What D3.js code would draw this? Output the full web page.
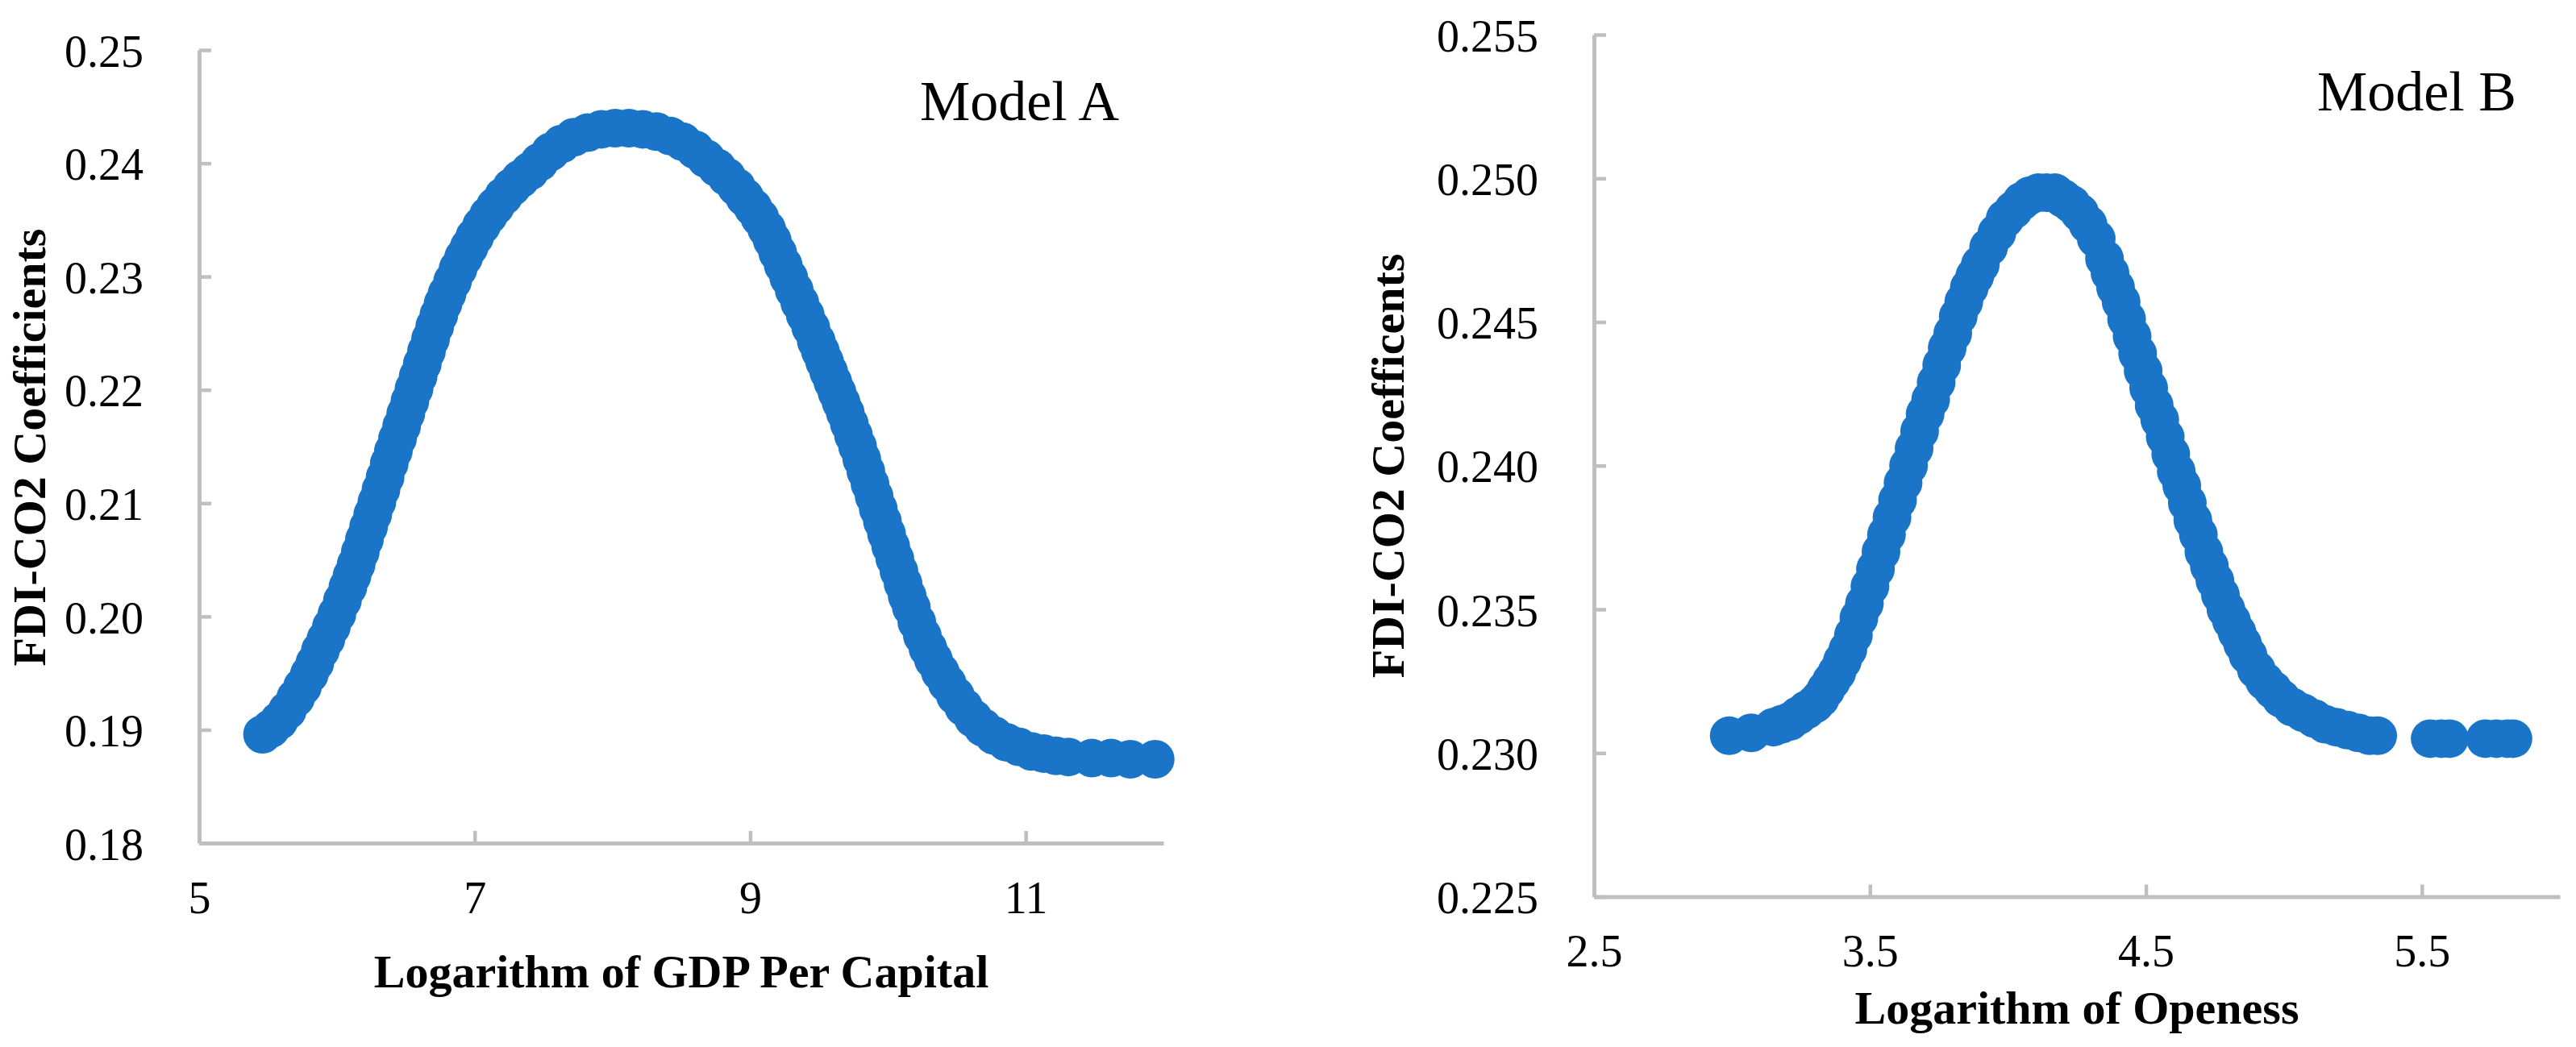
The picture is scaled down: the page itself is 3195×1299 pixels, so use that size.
<!DOCTYPE html>
<html><head><meta charset="utf-8">
<script src="https://cdn.jsdelivr.net/npm/d3@7"></script>
<style>body{margin:0;background:#fff}svg{display:block}</style>
</head><body><svg id="c" width="3195" height="1299"></svg>
<script>
// ---------- DATA ----------
const modelA_x = [5.46,5.52,5.58,5.64,5.70,5.75,5.80,5.84,5.88,5.92,5.96,6.00,6.04,6.08,6.11,6.14,6.17,6.20,6.23,6.26,6.29,6.32,6.35,6.38,6.41,6.44,6.47,6.50,6.53,6.56,6.59,6.62,6.65,6.68,6.71,6.74,6.77,6.80,6.84,6.88,6.92,6.96,7.00,7.05,7.10,7.15,7.21,7.27,7.33,7.40,7.47,7.55,7.63,7.72,7.82,7.92,8.02,8.12,8.22,8.32,8.42,8.51,8.60,8.68,8.76,8.83,8.90,8.96,9.02,9.07,9.12,9.16,9.20,9.24,9.28,9.32,9.36,9.40,9.44,9.48,9.51,9.54,9.57,9.60,9.63,9.66,9.69,9.72,9.75,9.78,9.81,9.84,9.87,9.90,9.93,9.96,9.99,10.02,10.05,10.08,10.11,10.14,10.17,10.21,10.25,10.29,10.33,10.38,10.43,10.49,10.55,10.62,10.69,10.77,10.86,10.95,11.04,11.13,11.22,11.31,11.48,11.62,11.76,11.94];
const modelA_y = [0.1896,0.1901,0.1908,0.1917,0.1928,0.1938,0.1949,0.1959,0.1970,0.1980,0.1991,0.2002,0.2014,0.2026,0.2036,0.2046,0.2057,0.2068,0.2079,0.2090,0.2101,0.2112,0.2123,0.2135,0.2146,0.2157,0.2168,0.2179,0.2190,0.2201,0.2212,0.2223,0.2234,0.2245,0.2256,0.2266,0.2276,0.2285,0.2296,0.2307,0.2317,0.2326,0.2335,0.2345,0.2354,0.2362,0.2371,0.2379,0.2386,0.2393,0.2401,0.2410,0.2417,0.2423,0.2427,0.2430,0.2431,0.2431,0.2430,0.2428,0.2424,0.2419,0.2412,0.2404,0.2396,0.2388,0.2379,0.2370,0.2361,0.2352,0.2342,0.2332,0.2321,0.2310,0.2299,0.2288,0.2277,0.2266,0.2255,0.2243,0.2234,0.2225,0.2216,0.2207,0.2198,0.2189,0.2180,0.2170,0.2160,0.2150,0.2139,0.2128,0.2117,0.2106,0.2095,0.2084,0.2073,0.2062,0.2051,0.2040,0.2029,0.2018,0.2008,0.1995,0.1983,0.1972,0.1962,0.1951,0.1941,0.1930,0.1920,0.1910,0.1902,0.1895,0.1889,0.1885,0.1881,0.1879,0.1877,0.1876,0.1875,0.1875,0.1874,0.1874];

const modelB_x = [2.99,3.07,3.15,3.18,3.21,3.24,3.27,3.30,3.32,3.34,3.36,3.38,3.40,3.42,3.44,3.46,3.48,3.50,3.52,3.54,3.56,3.58,3.60,3.62,3.64,3.66,3.68,3.70,3.72,3.74,3.76,3.78,3.80,3.82,3.84,3.86,3.88,3.90,3.93,3.96,3.99,4.02,4.05,4.08,4.11,4.14,4.17,4.20,4.23,4.26,4.29,4.32,4.35,4.37,4.39,4.41,4.43,4.45,4.47,4.49,4.51,4.53,4.55,4.57,4.59,4.61,4.63,4.65,4.67,4.69,4.71,4.73,4.75,4.77,4.79,4.81,4.83,4.85,4.87,4.90,4.93,4.96,4.99,5.03,5.07,5.11,5.15,5.19,5.23,5.27,5.31,5.34,5.53,5.57,5.60,5.73,5.77,5.81,5.83];
const modelB_y = [0.2306,0.2307,0.2309,0.2310,0.2311,0.2313,0.2315,0.2317,0.2319,0.2322,0.2325,0.2328,0.2332,0.2336,0.2341,0.2347,0.2352,0.2358,0.2364,0.2370,0.2376,0.2382,0.2388,0.2394,0.2400,0.2406,0.2412,0.2418,0.2423,0.2429,0.2435,0.2441,0.2446,0.2452,0.2457,0.2462,0.2466,0.2470,0.2476,0.2481,0.2486,0.2489,0.2492,0.2494,0.2495,0.2495,0.2495,0.2493,0.2491,0.2488,0.2484,0.2479,0.2472,0.2467,0.2462,0.2457,0.2451,0.2445,0.2439,0.2433,0.2427,0.2421,0.2416,0.2410,0.2404,0.2398,0.2393,0.2387,0.2381,0.2376,0.2370,0.2365,0.2360,0.2355,0.2350,0.2346,0.2342,0.2338,0.2334,0.2329,0.2325,0.2322,0.2319,0.2316,0.2314,0.2312,0.2310,0.2309,0.2308,0.2307,0.2306,0.2306,0.2305,0.2305,0.2305,0.2305,0.2305,0.2305,0.2305];

const xTicksA = [5, 7, 9, 11];
const yTicksA = [0.18, 0.19, 0.20, 0.21, 0.22, 0.23, 0.24, 0.25];
const xTicksB = [2.5, 3.5, 4.5, 5.5];
const yTicksB = [0.225, 0.230, 0.235, 0.240, 0.245, 0.250, 0.255];

const titlesA = {x: "Logarithm of GDP Per Capital", y: "FDI-CO2 Coefficients", model: "Model A"};
const titlesB = {x: "Logarithm of Openess", y: "FDI-CO2 Coefficents", model: "Model B"};

// ---------- DRAW ----------
const svg = d3.select('#c');
svg.append('rect').attr('width', 3195).attr('height', 1299).attr('fill', '#fff');
const AXIS = '#bfbfbf', BLUE = '#1a75c8';
const SERIF = '"Liberation Serif","Times New Roman",Times,serif';

function panel(cfg) {
  const x = d3.scaleLinear().domain(cfg.xDomain).range(cfg.xRange);
  const y = d3.scaleLinear().domain(cfg.yDomain).range(cfg.yRange);
  const g = svg.append('g');
  const y0 = cfg.yRange[0], x0 = cfg.xRange[0];

  const xa = g.append('g').attr('transform', `translate(0,${y0})`)
    .call(d3.axisBottom(x).tickValues(cfg.xTicks).tickFormat(d3.format(cfg.xFmt))
      .tickSizeInner(-15).tickSizeOuter(0).tickPadding(47));
  const ya = g.append('g').attr('transform', `translate(${x0},0)`)
    .call(d3.axisLeft(y).tickValues(cfg.yTicks).tickFormat(d3.format(cfg.yFmt))
      .tickSizeInner(-15).tickSizeOuter(0).tickPadding(69));
  [xa, ya].forEach(a => {
    a.select('.domain').attr('stroke', AXIS).attr('stroke-width', 5);
    a.selectAll('.tick line').attr('stroke', AXIS).attr('stroke-width', 4.5);
    a.selectAll('.tick text').attr('fill', '#000').style('font-family', SERIF).style('font-size', '56px');
  });
  ya.selectAll('.tick text').attr('dy', '0.36em');

  const pts = d3.range(Math.min(cfg.xs.length, cfg.ys.length)).map(i => [cfg.xs[i], cfg.ys[i]]);
  g.append('g').selectAll('circle').data(pts).join('circle')
    .attr('cx', d => x(d[0])).attr('cy', d => y(d[1])).attr('r', 24).attr('fill', BLUE);

  g.append('text').attr('x', (cfg.xRange[0] + cfg.xRange[1]) / 2).attr('y', cfg.xTitleY)
    .attr('text-anchor', 'middle').style('font-family', SERIF).style('font-weight', 'bold')
    .style('font-size', '58px').text(cfg.titles.x);
  g.append('text').attr('transform', `translate(${cfg.yTitleX},${cfg.yTitleCY}) rotate(-90)`)
    .attr('text-anchor', 'middle').style('font-family', SERIF).style('font-weight', 'bold')
    .style('font-size', '58px').text(cfg.titles.y);
  g.append('text').attr('x', cfg.modelX).attr('y', cfg.modelY)
    .style('font-family', SERIF).style('font-size', '70px').text(cfg.titles.model);
}

panel({
  xs: modelA_x, ys: modelA_y, xTicks: xTicksA, yTicks: yTicksA, titles: titlesA,
  xDomain: [5, 12], xRange: [247, 1443], yDomain: [0.18, 0.25], yRange: [1046, 62],
  xFmt: '.0f', yFmt: '.2f', xTitleY: 1225, yTitleX: 56, yTitleCY: 555, modelX: 1141, modelY: 149
});
panel({
  xs: modelB_x, ys: modelB_y, xTicks: xTicksB, yTicks: yTicksB, titles: titlesB,
  xDomain: [2.5, 6.0], xRange: [1977, 3175], yDomain: [0.225, 0.255], yRange: [1112.5, 43],
  xFmt: '.1f', yFmt: '.3f', xTitleY: 1270, yTitleX: 1741, yTitleCY: 578, modelX: 2874, modelY: 137
});
</script></body></html>
